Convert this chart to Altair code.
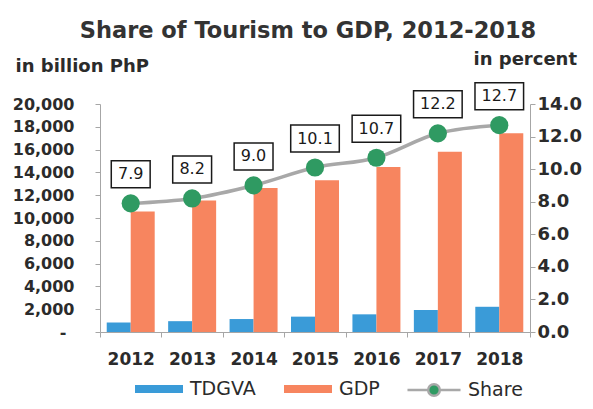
import altair as alt
import pandas as pd

years = ["2012", "2013", "2014", "2015", "2016", "2017", "2018"]
tdgva = [833, 950, 1137, 1347, 1550, 1929, 2212]
gdp = [10561, 11538, 12634, 13322, 14481, 15806, 17426]
share = [7.9, 8.2, 9.0, 10.1, 10.7, 12.2, 12.7]
series = ["TDGVA", "GDP"]
bar_colors = ["#3a9bd8", "#f7855f"]
left_ticks = list(range(0, 20001, 2000))
right_ticks = [0, 2, 4, 6, 8, 10, 12, 14]

bars_df = pd.DataFrame({
    "year": years * 2,
    "series": ["TDGVA"] * len(years) + ["GDP"] * len(years),
    "value": tdgva + gdp,
})
share_df = pd.DataFrame({
    "year": years,
    "share": share,
    "label": [f"{v:.1f}" for v in share],
    "kind": ["Share"] * len(years),
})
share_df["box"] = ["narrow" if len(s) <= 3 else "wide" for s in share_df["label"]]

FONT = "DejaVu Sans"
TXT = "#2b2b2b"
AX = "#a6a6a6"

x = alt.X(
    "year:N",
    sort=years,
    scale=alt.Scale(paddingInner=0, paddingOuter=0),
    axis=alt.Axis(
        title=None, labelAngle=0, tickBand="extent", labelFont=FONT,
        labelFontSize=17, labelFontWeight="bold", labelColor=TXT,
        domainColor=AX, tickColor=AX, tickSize=5, labelPadding=14,
    ),
)

bars = alt.Chart(bars_df).mark_bar().encode(
    x=x,
    xOffset=alt.XOffset("series:N", sort=series,
                        scale=alt.Scale(paddingInner=0, paddingOuter=0.28)),
    y=alt.Y(
        "value:Q",
        scale=alt.Scale(domain=[0, 20000], nice=False),
        axis=alt.Axis(
            title="in billion PhP", titleAngle=0, titleAlign="left",
            titleBaseline="alphabetic", titleX=-85, titleY=-33,
            titleFont=FONT, titleFontSize=18, titleFontWeight="bold", titleColor=TXT,
            values=left_ticks, grid=False,
            labelExpr="datum.value == 0 ? '-' : format(datum.value, ',')",
            labelFont=FONT, labelFontSize=16, labelFontWeight="bold", labelColor=TXT,
            domainColor=AX, tickColor=AX, tickSize=5,
            labelPadding={"condition": {"test": "datum.value == 0", "value": 29}, "value": 21},
        ),
    ),
    color=alt.Color(
        "series:N", sort=series,
        scale=alt.Scale(domain=series, range=bar_colors),
        legend=alt.Legend(
            title=None, orient="none", direction="horizontal",
            legendX=47, legendY=273, padding=0,
            symbolType="M-2,-0.33H2V0.33H-2Z", symbolSize=576, symbolStrokeWidth=0,
            labelOffset=19, columnPadding=28,
            labelFont=FONT, labelFontSize=19, labelColor=TXT,
        ),
    ),
)

y_right = alt.Y(
    "share:Q",
    scale=alt.Scale(domain=[0, 14], nice=False),
    axis=alt.Axis(
        orient="right", title="in percent", titleAngle=0, titleAlign="left",
        titleBaseline="alphabetic", titleX=-57, titleY=-40,
        titleFont=FONT, titleFontSize=18, titleFontWeight="bold", titleColor=TXT,
        values=right_ticks, format=".1f", grid=False,
        labelFont=FONT, labelFontSize=18, labelFontWeight="bold", labelColor=TXT,
        domainColor=AX, tickColor=AX, tickSize=5, labelPadding=2,
    ),
)

line = alt.Chart(share_df).mark_line(
    color="#a8a8a8", strokeWidth=3.5, interpolate="monotone"
).encode(x=x, y=y_right)

points = alt.Chart(share_df).mark_point(
    filled=True, size=330, opacity=1, shape="circle"
).encode(
    x=x, y=y_right,
    fill=alt.Fill(
        "kind:N",
        scale=alt.Scale(domain=["Share"], range=["#2f9a62"]),
        legend=alt.Legend(
            title=None, orient="none", legendX=322, legendY=274, padding=0,
            symbolType="M-2.5,0H-0.55M0.55,0H2.5M-0.55,0A0.55,0.55 0 1,1 0.55,0A0.55,0.55 0 1,1 -0.55,0Z",
            symbolSize=450, symbolStrokeColor="#a8a8a8", symbolStrokeWidth=2.5,
            labelOffset=22, labelFont=FONT, labelFontSize=19, labelColor=TXT,
        ),
    ),
)

boxes = alt.Chart(share_df).mark_point(
    filled=True, fill="white", stroke="#1a1a1a", strokeWidth=1.5, opacity=1,
    size=729, yOffset=-29,
).encode(
    x=x, y=y_right,
    shape=alt.Shape(
        "box:N",
        scale=alt.Scale(domain=["narrow", "wide"],
                        range=["M-1.44,-1H1.44V1H-1.44Z", "M-1.8,-1H1.8V1H-1.8Z"]),
        legend=None,
    ),
)

labels = alt.Chart(share_df).mark_text(
    font=FONT, fontSize=16, color="#1a1a1a", yOffset=-29, baseline="middle"
).encode(x=x, y=y_right, text="label:N")

right_layer = alt.layer(line, points, boxes, labels)

chart = alt.layer(bars, right_layer).resolve_scale(
    y="independent", color="independent", shape="independent"
).properties(
    width=430, height=228,
    autosize=alt.AutoSizeParams(type="none"),
    padding={"left": 92, "top": 96, "right": 55, "bottom": 69},
    title=alt.TitleParams(
        "Share of Tourism to GDP, 2012-2018", font=FONT, fontSize=22.5,
        fontWeight="bold", color="#333333", anchor="middle", frame="group",
        dx=-7, offset=8,
    ),
).configure_view(stroke=None)

chart.save("out.html", embed_options={"renderer": "svg", "actions": False})
